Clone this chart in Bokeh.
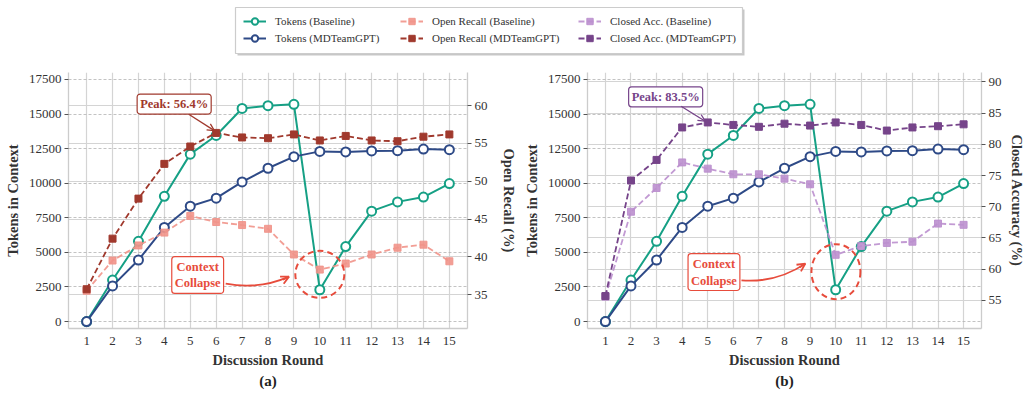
from bokeh.plotting import figure
from bokeh.models import (Range1d, LinearAxis, FixedTicker, Grid, Label, Arrow, OpenHead,
                          Legend, LegendItem, Title, ColumnDataSource)
from bokeh.layouts import column, row
from bokeh.embed import file_html
from bokeh.resources import INLINE

# ---------------- data ----------------
rounds = list(range(1, 16))
tokens_baseline = [0, 3000, 5800, 9050, 12100, 13450, 15400, 15600, 15700, 2300, 5420, 7980, 8650, 9000, 9970]
tokens_mdteam = [0, 2580, 4450, 6800, 8340, 8920, 10090, 11080, 11920, 12300, 12260, 12330, 12350, 12470, 12420]
open_recall_baseline = [35.5, 39.5, 41.5, 43.2, 45.4, 44.6, 44.2, 43.7, 40.3, 38.3, 39.1, 40.3, 41.2, 41.6, 39.4]
open_recall_mdteam = [35.7, 42.4, 47.7, 52.3, 54.6, 56.4, 55.8, 55.7, 56.2, 55.4, 56.0, 55.4, 55.3, 55.9, 56.2]
closed_acc_baseline = [55.6, 69.2, 73.0, 77.1, 76.1, 75.2, 75.2, 74.5, 73.6, 62.3, 63.7, 64.2, 64.4, 67.3, 67.1]
closed_acc_mdteam = [55.7, 74.2, 77.5, 82.7, 83.5, 83.1, 82.8, 83.3, 83.0, 83.5, 83.1, 82.2, 82.7, 82.9, 83.2]
token_ticks = [0, 2500, 5000, 7500, 10000, 12500, 15000, 17500]
recall_ticks = [35, 40, 45, 50, 55, 60]
closed_ticks = [55, 60, 65, 70, 75, 80, 85, 90]
peak_recall_label = "Peak: 56.4%"
peak_closed_label = "Peak: 83.5%"

# ---------------- style ----------------
FONT = "Liberation Serif"
TEAL = "#16a085"
NAVY = "#2e4a87"
DRED = "#a0392d"
SALMON = "#f1948a"
DPURP = "#76448a"
LPURP = "#bb8fce"
RED = "#e74c3c"
TXT = "#333333"


def style_common(p):
    p.outline_line_color = None
    p.background_fill_color = "white"
    p.border_fill_color = "white"
    p.xgrid.grid_line_color = "#d4d4d4"
    p.xgrid.grid_line_width = 1.2
    p.ygrid.grid_line_color = "#b4b4b4"
    p.ygrid.grid_line_width = 0.8
    p.ygrid.grid_line_dash = "3 2"
    p.xaxis.ticker = FixedTicker(ticks=rounds)
    p.yaxis.ticker = FixedTicker(ticks=token_ticks)
    for ax in (p.xaxis[0], p.yaxis[0]):
        ax.axis_line_color = "#cccccc"
        ax.axis_line_width = 1.3
        ax.major_tick_line_color = "#555555"
        ax.minor_tick_line_color = None
        ax.major_label_text_font = FONT
        ax.major_label_text_font_size = "13px"
        ax.major_label_text_color = TXT
        ax.axis_label_text_font = FONT
        ax.axis_label_text_font_size = "14.5px"
        ax.axis_label_text_font_style = "bold"
        ax.axis_label_text_color = TXT
    p.xaxis.major_tick_out = 0
    p.xaxis.major_tick_in = 0
    p.xaxis.major_label_standoff = 8
    p.xaxis.axis_label = "Discussion Round"
    p.xaxis.axis_label_standoff = 4
    p.yaxis.major_tick_out = 4
    p.yaxis.major_tick_in = 0
    p.yaxis.major_label_standoff = 3
    p.yaxis.axis_label = "Tokens in Context"


def make_panel(letter, r_base, r_md, c_base, c_md, r_range, r_ticks, r_label,
               width, mbl, mbr, r_label_standoff, ann):
    p = figure(width=width, height=333, x_range=Range1d(0.3, 15.7), y_range=Range1d(-500, 18000),
               output_backend="svg", toolbar_location=None, tools="",
               min_border_left=mbl, min_border_right=mbr, min_border_top=8, min_border_bottom=69)
    p.extra_y_ranges = {"r": Range1d(*r_range)}
    style_common(p)

    rax = LinearAxis(y_range_name="r", ticker=FixedTicker(ticks=r_ticks), axis_label=r_label)
    rax.axis_line_color = "#cccccc"
    rax.axis_line_width = 1.3
    rax.major_tick_line_color = "#555555"
    rax.major_tick_out = 4
    rax.major_tick_in = 0
    rax.minor_tick_line_color = None
    rax.major_label_standoff = 3
    rax.major_label_text_font = FONT
    rax.major_label_text_font_size = "13px"
    rax.major_label_text_color = TXT
    rax.axis_label_text_font = FONT
    rax.axis_label_text_font_size = "14.5px"
    rax.axis_label_text_font_style = "bold"
    rax.axis_label_text_color = TXT
    rax.axis_label_standoff = r_label_standoff
    p.add_layout(rax, "right")

    rgrid = Grid(dimension=1, ticker=FixedTicker(ticks=r_ticks), y_range_name="r",
                 grid_line_color="#d4d4d4", grid_line_width=1.2)
    p.add_layout(rgrid)

    # tokens
    p.line(rounds, tokens_baseline, line_color=TEAL, line_width=2)
    p.scatter(rounds, tokens_baseline, marker="circle", size=9, line_color=TEAL, line_width=2, fill_color="white")
    p.line(rounds, tokens_mdteam, line_color=NAVY, line_width=2)
    p.scatter(rounds, tokens_mdteam, marker="circle", size=9, line_color=NAVY, line_width=2, fill_color="white")

    # secondary metrics
    p.line(rounds, r_base, y_range_name="r", line_color=c_base, line_width=1.8, line_dash="6 3", line_alpha=0.9)
    p.scatter(rounds, r_base, y_range_name="r", marker="square", size=7, fill_color=c_base, line_color=c_base, alpha=0.9)
    p.line(rounds, r_md, y_range_name="r", line_color=c_md, line_width=1.8, line_dash="6 3")
    p.scatter(rounds, r_md, y_range_name="r", marker="square", size=7, fill_color=c_md, line_color=c_md)

    # annotations
    p.add_layout(Label(x=ann["peak_xy"][0], y=ann["peak_xy"][1], y_range_name="r", text=ann["peak_text"],
                       text_align="center", text_baseline="middle", text_font=FONT,
                       text_font_size="12.5px", text_font_style="bold", text_color=c_md,
                       background_fill_color="white", border_line_color=c_md, border_line_width=1.2,
                       border_radius=3, padding=3))
    p.add_layout(Arrow(end=OpenHead(size=7, line_color=c_md, line_width=1.3),
                       x_start=ann["peak_arrow"][0], y_start=ann["peak_arrow"][1],
                       x_end=ann["peak_arrow"][2], y_end=ann["peak_arrow"][3],
                       y_range_name="r", line_color=c_md, line_width=1.3))
    p.add_layout(Label(x=ann["cc_xy"][0], y=ann["cc_xy"][1], y_range_name="r", text="Context\nCollapse",
                       text_align="center", text_baseline="middle", text_font=FONT,
                       text_font_size="12.5px", text_font_style="bold", text_color=RED,
                       background_fill_color="white", border_line_color=RED, border_line_width=1.2,
                       border_radius=3, padding=3))
    b = ann["bez"]
    p.bezier(x0=[b[0]], y0=[b[1]], cx0=[b[2]], cy0=[b[3]], cx1=[b[4]], cy1=[b[5]], x1=[b[6]], y1=[b[7]],
             y_range_name="r", line_color=RED, line_width=1.8)
    p.add_layout(Arrow(end=OpenHead(size=8, line_color=RED, line_width=1.8),
                       x_start=ann["head"][0], y_start=ann["head"][1], x_end=b[6], y_end=b[7],
                       y_range_name="r", line_color=RED, line_width=1.8))
    c = ann["circ"]
    p.ellipse(x=[c[0]], y=[c[1]], width=c[2], height=c[3], width_units="screen", height_units="screen",
              y_range_name="r", fill_color=None, line_color=RED, line_width=2, line_dash="6 4")

    t = Title(text=letter, align="center", text_font=FONT, text_font_size="15px",
              text_font_style="bold", text_color="#222222", standoff=0)
    p.add_layout(t, "below")
    return p


ann_a = dict(peak_text=peak_recall_label, peak_xy=(4.378, 60.22), peak_arrow=(4.94, 58.88, 5.93, 56.7),
             cc_xy=(5.286, 37.58), bez=(6.367, 36.45, 7.208, 35.88, 8.023, 36.18, 8.811, 37.37),
             head=(8.575, 36.96), circ=(10.0, 37.67, 49, 47))
ann_b = dict(peak_text=peak_closed_label, peak_xy=(3.355, 87.6), peak_arrow=(3.96, 86.1, 4.9, 83.7),
             cc_xy=(5.243, 59.53), bez=(6.317, 58.21, 7.228, 57.92, 8.062, 58.82, 8.815, 60.89),
             head=(8.589, 60.27), circ=(10.01, 59.6, 49, 55))

pa = make_panel("(a)", open_recall_baseline, open_recall_mdteam, SALMON, DRED, (30.5, 64.4), recall_ticks,
                "Open Recall (%)", 520, 68, 53, 10, ann_a)
pb = make_panel("(b)", closed_acc_baseline, closed_acc_mdteam, LPURP, DPURP, (50.5, 91.5), closed_ticks,
                "Closed Accuracy (%)", 507, 67, 42, 4, ann_b)

# ---------------- legend strip ----------------
lg = figure(width=1027, height=64, x_range=Range1d(0, 1027), y_range=Range1d(64, 0),
            output_backend="svg", toolbar_location=None, tools="", min_border=0)
lg.axis.visible = False
lg.grid.visible = False
lg.outline_line_color = None
lg.quad(left=[237], right=[744], top=[9], bottom=[55], fill_color="#999999", fill_alpha=0.55, line_color=None)
lg.quad(left=[235], right=[742], top=[7], bottom=[53], fill_color="white", line_color="#cccccc", line_width=1.2)

offscreen = dict(x=[-50, -40], y=[-50, -50])


def entry(color, dash, marker, fill, alpha=1.0):
    src = ColumnDataSource(data=dict(offscreen))
    l = lg.line("x", "y", source=src, line_color=color, line_width=2 if marker == "circle" else 1.8,
                line_dash=dash, line_alpha=alpha)
    if marker == "circle":
        s = lg.scatter("x", "y", source=src, marker="circle", size=9, line_color=color, line_width=2, fill_color=fill)
    else:
        s = lg.scatter("x", "y", source=src, marker="square", size=7, line_color=color, fill_color=color, alpha=alpha)
    return [l, s]


cols = [
    [("Tokens (Baseline)", entry(TEAL, "solid", "circle", "white")),
     ("Tokens (MDTeamGPT)", entry(NAVY, "solid", "circle", "white"))],
    [("Open Recall (Baseline)", entry(SALMON, "6 3", "square", SALMON, 0.9)),
     ("Open Recall (MDTeamGPT)", entry(DRED, "6 3", "square", DRED))],
    [("Closed Acc. (Baseline)", entry(LPURP, "6 3", "square", LPURP, 0.9)),
     ("Closed Acc. (MDTeamGPT)", entry(DPURP, "6 3", "square", DPURP))],
]
xs = [243, 400, 578]
for x0, items in zip(xs, cols):
    leg = Legend(items=[LegendItem(label=t, renderers=r) for t, r in items], location=(x0, 18),
                 orientation="vertical", padding=0, margin=0, spacing=1, glyph_width=23, glyph_height=16,
                 label_height=16, label_standoff=9, label_text_font=FONT, label_text_font_size="11px",
                 label_text_color=TXT, border_line_color=None, background_fill_alpha=0)
    lg.add_layout(leg)

layout = column(lg, row(pa, pb))
open("out.html", "w").write(file_html(layout, INLINE))
